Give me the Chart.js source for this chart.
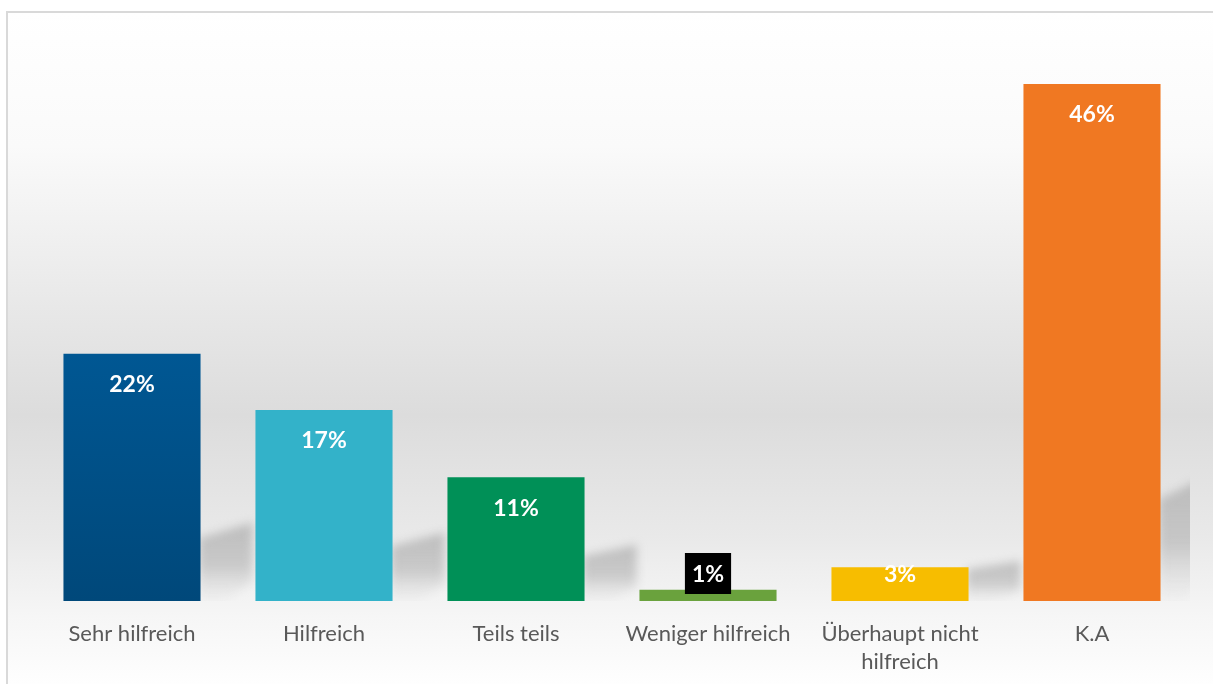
<!DOCTYPE html>
<html>
<head>
<meta charset="utf-8">
<script src="https://cdn.jsdelivr.net/npm/chart.js@4/dist/chart.umd.min.js"></script>
<style>
  html, body { margin: 0; padding: 0; background: #ffffff; overflow: hidden; }
  #wrap { position: absolute; left: 0; top: 0; width: 1213px; height: 684px; }
</style>
</head>
<body>
<div id="wrap"><canvas id="chart" width="1213" height="684"></canvas></div>
<script>
// Survey answers and their shares in percent
const categories = ['Sehr hilfreich', 'Hilfreich', 'Teils teils', 'Weniger hilfreich', ['Überhaupt nicht', 'hilfreich'], 'K.A'];
const shares = [22, 17, 11, 1, 3, 46];
const valueLabels = ['22%', '17%', '11%', '1%', '3%', '46%'];
const barColors = ['#00548f', '#33b2c9', '#009057', '#6aa23d', '#f7bd00', '#f07822'];

const FONT = 'Lato, "Open Sans", sans-serif';

// Soft grey panel with a light frame behind the plot
const panelPlugin = {
  id: 'panel',
  beforeDraw(chart) {
    const ctx = chart.ctx;
    ctx.save();
    ctx.fillStyle = '#ffffff';
    ctx.fillRect(0, 0, chart.width, chart.height);
    const g = ctx.createLinearGradient(0, 12, 0, 684);
    g.addColorStop(0.00, '#ffffff');
    g.addColorStop(0.20, '#fafafa');
    g.addColorStop(0.40, '#ebebeb');
    g.addColorStop(0.60, '#dcdcdc');
    g.addColorStop(0.78, '#e9e9e9');
    g.addColorStop(0.90, '#f6f6f6');
    g.addColorStop(1.00, '#fefefe');
    ctx.fillStyle = g;
    ctx.fillRect(8, 12, chart.width, chart.height);
    ctx.strokeStyle = '#d9d9d9';
    ctx.lineWidth = 2;
    ctx.strokeRect(7, 12, chart.width + 20, chart.height + 20);
    ctx.restore();
  }
};

// Slanted cast shadow to the right of each bar
const shadowPlugin = {
  id: 'castShadow',
  beforeDatasetsDraw(chart) {
    const ctx = chart.ctx;
    const meta = chart.getDatasetMeta(0);
    const area = chart.chartArea;
    ctx.save();
    ctx.beginPath();
    ctx.rect(area.left, area.top, area.right - area.left + 2, area.bottom - area.top);
    ctx.clip();
    ctx.filter = 'blur(5px)';
    meta.data.forEach((bar) => {
      const h = bar.base - bar.y;
      if (h < 30) return;
      const xr = bar.x + bar.width / 2;
      const sh = 34 + 0.18 * h;
      const w = 52;
      const g = ctx.createLinearGradient(0, bar.base - sh, 0, bar.base);
      g.addColorStop(0, 'rgba(160,160,160,0.6)');
      g.addColorStop(0.55, 'rgba(165,165,165,0.5)');
      g.addColorStop(1, 'rgba(210,210,210,0.1)');
      ctx.fillStyle = g;
      ctx.beginPath();
      ctx.moveTo(xr - 2, bar.base);
      ctx.lineTo(xr - 2, bar.base - sh * 0.8);
      ctx.lineTo(xr + w, bar.base - sh);
      ctx.lineTo(xr + w, bar.base - sh * 0.25);
      ctx.lineTo(xr + w * 0.45, bar.base);
      ctx.closePath();
      ctx.fill();
    });
    ctx.restore();
  }
};

// Percentage labels inside the top of each bar
const valueLabelPlugin = {
  id: 'valueLabels',
  afterDatasetsDraw(chart) {
    const ctx = chart.ctx;
    const meta = chart.getDatasetMeta(0);
    ctx.save();
    ctx.font = 'bold 23px ' + FONT;
    ctx.textAlign = 'center';
    ctx.textBaseline = 'middle';
    meta.data.forEach((bar, i) => {
      const cy = Math.min(bar.y + 30, bar.base - 27);
      const text = valueLabels[i];
      if (shares[i] < 2) {
        const tw = ctx.measureText(text).width;
        ctx.fillStyle = '#000000';
        ctx.fillRect(bar.x - tw / 2 - 7, cy - 21, tw + 14, 41);
      }
      ctx.fillStyle = '#ffffff';
      ctx.fillText(text, bar.x, cy + 1);
    });
    ctx.restore();
  }
};

function barFill(context) {
  const i = context.dataIndex;
  if (i !== 0) return barColors[i];
  const chart = context.chart;
  const area = chart.chartArea;
  if (!area) return barColors[0];
  const y = chart.scales.y;
  const g = chart.ctx.createLinearGradient(0, y.getPixelForValue(shares[0]), 0, y.getPixelForValue(0));
  g.addColorStop(0, '#005793');
  g.addColorStop(1, '#00487a');
  return g;
}

new Chart(document.getElementById('chart'), {
  type: 'bar',
  data: {
    labels: categories,
    datasets: [{
      data: shares,
      backgroundColor: barFill,
      borderWidth: 0,
      categoryPercentage: 1.0,
      barPercentage: 0.714
    }]
  },
  options: {
    responsive: false,
    animation: false,
    devicePixelRatio: 1,
    layout: { padding: { left: 36, right: 25, top: 39, bottom: 9 } },
    plugins: {
      legend: { display: false },
      tooltip: { enabled: false }
    },
    scales: {
      x: {
        grid: { display: false },
        border: { display: false },
        afterFit(scale) { scale.height = 74; },
        ticks: {
          color: '#595959',
          font: { family: FONT, size: 22, lineHeight: 1.27 },
          padding: 11,
          maxRotation: 0,
          autoSkip: false
        }
      },
      y: {
        display: false,
        min: 0,
        max: 50
      }
    }
  },
  plugins: [panelPlugin, shadowPlugin, valueLabelPlugin]
});
</script>
</body>
</html>
